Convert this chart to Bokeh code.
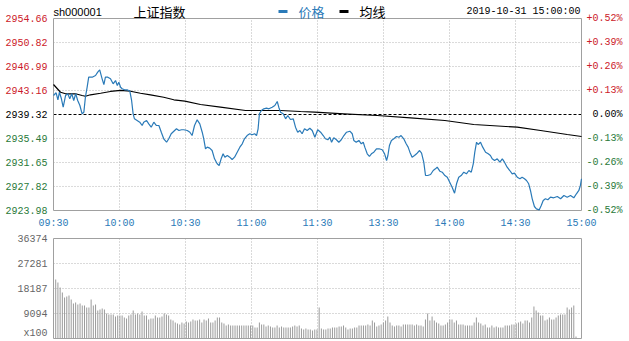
import numpy as np
from bokeh.plotting import figure
from bokeh.models import Range1d
from bokeh.layouts import column
from bokeh.core.properties import value
from bokeh.embed import file_html
from bokeh.resources import INLINE

# ---------------- data ----------------
tick_pos = [0, 30, 60, 90, 120, 150, 180, 210, 240]
tick_labels = ["09:30", "10:00", "10:30", "11:00", "11:30", "13:30", "14:00", "14:30", "15:00"]

price_levels = [2954.66, 2950.82, 2946.99, 2943.16, 2939.32, 2935.49, 2931.65, 2927.82, 2923.98]
pct_labels = ["+0.52%", "+0.39%", "+0.26%", "+0.13%", "0.00%", "-0.13%", "-0.26%", "-0.39%", "-0.52%"]
prev_close = 2939.32

price_t = [0, 1.2, 2.0, 2.7, 3.6, 4.4, 5.5, 6.5, 7.4, 8.3, 9.2, 10.1, 11.0, 12.0, 13.0, 13.8, 14.5, 15.3, 16.0,
           17.6, 19.1, 20.1, 21.0, 22.1, 22.9, 23.6, 24.7, 25.9, 27.1, 28.2, 29.0, 29.7, 30.5, 31.2, 32.3, 33.5,
           34.7, 35.5, 36.2, 36.8, 38.0, 39.2, 40.3, 41.0, 42.3, 43.3, 44.4, 45.6, 46.8, 47.9, 49.0, 50.1, 51.4,
           52.4, 53.5, 54.7, 55.9, 57.0, 58.2, 59.2, 60.8, 62.0, 63.0, 64.1, 65.3, 66.5, 67.6, 68.3, 69.1, 69.9,
           71.0, 72.1, 73.2, 74.4, 75.3, 76.2, 77.1, 77.9, 79.0, 80.1, 81.2, 82.3, 83.5, 84.7, 85.8, 86.8, 88.0,
           89.2, 90.3, 91.4, 92.3, 93.0, 93.6, 94.5, 95.6, 96.8, 97.9, 99.4, 100.6, 101.7, 102.4, 103.2, 104.4,
           105.5, 106.5, 107.7, 109.0, 110.0, 111.0, 112.0, 113.0, 114.1, 115.3, 116.5, 117.6, 118.8, 120.1,
           121.4, 122.6, 123.6, 124.7, 125.6, 126.4, 127.4, 128.6, 129.7, 130.8, 132.0, 133.2, 134.7, 135.8,
           136.5, 137.6, 138.8, 139.9, 140.8, 141.5, 142.6, 143.6, 144.5, 145.6, 146.8, 148.0, 149.4, 150.5,
           151.4, 152.0, 152.7, 153.6, 154.7, 155.9, 157.0, 158.0, 159.2, 160.3, 161.2, 162.0, 163.0, 164.1,
           165.3, 166.4, 167.3, 168.3, 169.1, 170.1, 171.4, 172.6, 173.6, 174.4, 175.6, 176.7, 177.9, 179.0,
           180.1, 181.2, 182.3, 183.2, 184.2, 185.3, 186.5, 187.7, 188.8, 189.9, 190.8, 191.5, 192.3, 193.0,
           194.1, 195.1, 196.4, 197.6, 198.6, 199.4, 200.5, 201.7, 202.9, 204.0, 205.0, 206.2, 207.4, 208.5,
           209.5, 210.8, 212.0, 213.0, 214.1, 215.0, 216.0, 216.8, 217.6, 218.6, 219.5, 220.8, 221.7, 222.6,
           223.6, 224.7, 225.9, 227.4, 229.0, 230.5, 232.0, 233.5, 235.0, 236.5, 237.7, 238.8, 239.5, 240.0]
price_v = [2942.36, 2942.79, 2941.67, 2942.88, 2941.83, 2940.49, 2942.36, 2942.63, 2941.83, 2942.63, 2941.56,
           2942.63, 2941.56, 2940.76, 2939.43, 2939.69, 2942.08, 2943.68, 2945.28, 2945.28, 2945.55, 2946.08,
           2946.46, 2945.02, 2944.11, 2945.28, 2945.28, 2945.02, 2944.23, 2944.75, 2943.95, 2944.48, 2943.68,
           2943.43, 2943.27, 2943.27, 2943.04, 2941.56, 2939.43, 2938.63, 2938.36, 2938.09, 2937.56, 2938.09,
           2938.36, 2937.83, 2937.29, 2938.09, 2937.56, 2937.56, 2936.49, 2935.44, 2934.89, 2935.44, 2936.24,
           2936.65, 2937.04, 2936.76, 2936.88, 2936.88, 2936.76, 2936.49, 2935.96, 2937.56, 2938.47, 2937.83,
           2936.49, 2935.44, 2933.84, 2934.10, 2933.94, 2933.57, 2932.24, 2931.44, 2931.17, 2932.24, 2933.04,
           2932.50, 2932.77, 2932.50, 2932.13, 2932.50, 2933.30, 2934.10, 2934.64, 2935.44, 2935.96, 2936.24,
           2936.08, 2936.24, 2935.96, 2937.04, 2939.43, 2939.96, 2940.23, 2940.33, 2940.23, 2940.49, 2940.76,
           2941.40, 2940.49, 2939.69, 2939.43, 2938.63, 2939.16, 2938.52, 2938.63, 2937.29, 2936.49, 2936.76,
           2936.24, 2937.04, 2936.76, 2937.13, 2936.76, 2935.69, 2936.88, 2936.49, 2935.96, 2935.44, 2935.28,
           2935.69, 2934.89, 2935.60, 2935.28, 2934.89, 2935.28, 2935.96, 2936.49, 2936.65, 2936.24, 2935.17,
           2934.89, 2935.17, 2934.64, 2934.89, 2934.10, 2933.04, 2932.61, 2933.04, 2933.30, 2933.84, 2933.84,
           2933.68, 2933.04, 2931.97, 2932.77, 2934.37, 2935.17, 2935.44, 2935.80, 2935.69, 2935.96, 2935.44,
           2934.64, 2934.10, 2933.30, 2932.50, 2932.77, 2933.14, 2933.57, 2933.14, 2931.70, 2929.57, 2929.57,
           2929.73, 2930.37, 2930.64, 2930.90, 2930.26, 2930.10, 2929.57, 2929.30, 2928.50, 2927.70, 2926.74,
           2928.25, 2929.30, 2929.57, 2930.10, 2929.84, 2930.37, 2930.10, 2931.44, 2933.30, 2934.89, 2934.53,
           2934.89, 2934.10, 2933.30, 2933.04, 2932.77, 2932.24, 2931.97, 2932.24, 2931.70, 2932.24, 2931.70,
           2930.90, 2930.37, 2929.84, 2929.94, 2929.30, 2929.05, 2929.30, 2929.05, 2928.77, 2928.25, 2927.18,
           2925.85, 2924.62, 2924.25, 2924.09, 2924.78, 2925.58, 2925.85, 2925.69, 2926.11, 2926.01, 2926.22,
           2925.85, 2926.38, 2926.11, 2926.38, 2926.01, 2926.65, 2927.18, 2927.98, 2929.05]

avg_t = [0, 3.2, 5.5, 10, 13, 14.5, 16.8, 21.4, 25.9, 30.5, 35, 39.5, 44.1, 50.1, 54.7, 59.7, 66.8, 75.9, 87.3,
         97.1, 103.2, 112.3, 118.8, 132, 147.1, 162.3, 177.9, 191, 210.8, 221.4, 233.5, 240]
avg_v = [2944.11, 2942.88, 2942.63, 2942.63, 2942.36, 2942.24, 2942.47, 2942.72, 2943.00, 2943.16, 2943.04,
         2942.72, 2942.47, 2942.08, 2941.67, 2941.45, 2940.92, 2940.49, 2939.96, 2939.96, 2939.96, 2939.80,
         2939.69, 2939.43, 2939.16, 2938.79, 2938.36, 2937.72, 2937.29, 2936.76, 2936.12, 2935.80]

vol_levels = [0, 9094, 18187, 27281, 36374]
vol_labels = ["x100", "9094", "18187", "27281", "36374"]
volume = [21460, 20370, 18550, 16730, 14910, 15280, 15640, 14190, 12730, 13090,
          12370, 12730, 12000, 12000, 11280, 11280, 14190, 12000, 12370, 10190,
          10550, 10910, 10550, 9090, 8730, 8730, 8730, 8000, 8370, 8370,
          8370, 7640, 7270, 8370, 8730, 10190, 8730, 9090, 8730, 9820,
          8370, 8370, 6910, 7270, 7270, 8370, 7640, 7640, 8000, 9090,
          8730, 8370, 6910, 6550, 5820, 5460, 5090, 5820, 5460, 6180,
          5820, 6180, 6910, 6550, 6550, 6910,
          5820, 6910, 6550, 7270, 5820, 5820, 6550, 7640, 7640, 5820,
          5460, 4730, 5090, 4730, 4730, 4730, 4730, 4730, 4730, 4730,
          4730, 4730, 4730, 4730, 4000, 4000, 5820, 5090, 5090, 4360,
          4730, 4360, 4000, 4000, 4730, 4000, 4360, 4000, 4000, 4000,
          4000, 4360, 4730, 4360, 4730, 3640, 3270, 3640, 3270, 3270,
          2910, 3270, 3270, 11280, 3640, 3270, 3270, 3640, 3640, 4000,
          4000, 4000, 4360, 4360, 4730, 4000, 3270, 3640, 3640, 4000,
          4000, 4730, 4730, 4730, 4730, 5090, 4730, 6550, 5820, 4360,
          4730, 5090, 5820, 6550, 8000, 5820, 4730, 4360, 4730, 4730,
          4360, 5090, 5090, 5090, 5090, 5090, 4730, 5090, 4730, 4730,
          4360, 6910, 9090, 6550, 8000, 6550, 5820, 5460, 4730, 4730,
          5090, 5820, 6910, 6910, 5820, 6550, 5090, 5090, 5090, 4730,
          4730, 4730, 4730, 5820, 7640, 5820, 5460, 4730, 5090, 4000,
          4000, 4730, 4000, 4360, 4000, 4000, 4000, 4730, 4730, 4730,
          5090, 5090, 5460, 5820, 6180, 5460, 6550, 6550, 5820, 7640,
          11640, 10190, 9460, 8370, 8370, 6550, 6910, 7640, 6910, 6910,
          7640, 8370, 8730, 8730, 8730, 11280, 10550, 11280, 12000, 730]

RED = "#cc1a2a"
GREEN = "#2a7a3a"
BLUE = "#2a7ab8"
GRID = "#b4b4b4"
FRAME = "#a0a0a0"
MONO = "Liberation Mono"

# ---------------- layout (pixels) ----------------
W = 629
H1, H2 = 230, 111
L, R = 53, 48            # plot-area margins left / right
T1, B1 = 18, 20          # price chart margins top / bottom
T2, B2 = 8, 3            # volume chart margins top / bottom

X0, X1 = tick_pos[0], tick_pos[-1]
MPX = (X1 - X0) / (W - L - R)                 # minutes per pixel
HI, LO = price_levels[0], price_levels[-1]
PPX = (HI - LO) / (H1 - T1 - B1)              # price per pixel
VHI = vol_levels[-1]
VPX = VHI / (H2 - T2 - B2)                    # volume per pixel

def xpx(px):
    return X0 + (px - L) * MPX

# ---------------- price chart ----------------
p = figure(width=W, height=H1,
           x_range=Range1d(X0 - L * MPX, X1 + R * MPX),
           y_range=Range1d(LO - B1 * PPX, HI + T1 * PPX),
           output_backend="svg", toolbar_location=None,
           min_border_left=0, min_border_right=0, min_border_top=0, min_border_bottom=0)
p.axis.visible = False
p.grid.visible = False
p.outline_line_color = None
p.background_fill_color = "white"
p.border_fill_color = "white"

inner_t = tick_pos[1:-1]
p.segment(x0=inner_t, x1=inner_t, y0=[LO] * len(inner_t), y1=[HI] * len(inner_t),
          line_color=GRID, line_dash="1 2", line_width=1)
inner_p = [v for v in price_levels[1:-1] if v != prev_close]
p.segment(x0=[X0] * len(inner_p), x1=[X1] * len(inner_p), y0=inner_p, y1=inner_p,
          line_color=GRID, line_dash="1 2", line_width=1)
p.segment(x0=[X0], x1=[X1], y0=[prev_close], y1=[prev_close], line_color="black", line_dash="3 2", line_width=1)
p.quad(left=[X0], right=[X1], bottom=[LO], top=[HI], fill_color=None, line_color=FRAME, line_width=1)

p.line(avg_t, avg_v, line_color="black", line_width=1.2)
p.line(price_t, price_v, line_color=BLUE, line_width=1.2)

cols = [RED if lv > prev_close else ("black" if lv == prev_close else GREEN) for lv in price_levels]
p.text(x=[X0] * 9, y=price_levels, text=[f"{lv:.2f}" for lv in price_levels], x_offset=-6,
       text_align="right", text_baseline="middle", text_font=value(MONO), text_font_size="10px", text_color=cols)
p.text(x=[X1] * 9, y=price_levels, text=pct_labels, x_offset=41,
       text_align="right", text_baseline="middle", text_font=value(MONO), text_font_size="10px", text_color=cols)

p.text(x=tick_pos, y=[LO - 13 * PPX] * len(tick_pos), text=tick_labels, text_align="center",
       text_baseline="middle", text_font=value(MONO), text_font_size="10px", text_color=BLUE)

yh = HI + 7 * PPX
p.text(x=[X0], y=[yh], text=["sh000001"], text_align="left", text_baseline="middle",
       text_font=value("Liberation Sans"), text_font_size="11px", text_color="black")
p.text(x=[xpx(133)], y=[yh], text=["上证指数"], text_align="left", text_baseline="middle",
       text_font=value("Noto Sans CJK SC"), text_font_size="13px", text_color="black")
p.segment(x0=[xpx(278)], x1=[xpx(287)], y0=[yh], y1=[yh], line_color=BLUE, line_width=3)
p.text(x=[xpx(298)], y=[yh], text=["价格"], text_align="left", text_baseline="middle",
       text_font=value("Noto Sans CJK SC"), text_font_size="13px", text_color=BLUE)
p.segment(x0=[xpx(339)], x1=[xpx(348)], y0=[yh], y1=[yh], line_color="black", line_width=3)
p.text(x=[xpx(359)], y=[yh], text=["均线"], text_align="left", text_baseline="middle",
       text_font=value("Noto Sans CJK SC"), text_font_size="13px", text_color="black")
p.text(x=[X1], y=[yh], text=["2019-10-31 15:00:00"], x_offset=-1, text_align="right", text_baseline="middle",
       text_font=value(MONO), text_font_size="10px", text_color="black")

# ---------------- volume chart ----------------
v = figure(width=W, height=H2,
           x_range=Range1d(X0 - L * MPX, X1 + R * MPX),
           y_range=Range1d(-B2 * VPX, VHI + T2 * VPX),
           output_backend="svg", toolbar_location=None,
           min_border_left=0, min_border_right=0, min_border_top=0, min_border_bottom=0)
v.axis.visible = False
v.grid.visible = False
v.outline_line_color = None
v.background_fill_color = "white"
v.border_fill_color = "white"

v.segment(x0=inner_t, x1=inner_t, y0=[0] * len(inner_t), y1=[VHI] * len(inner_t),
          line_color=GRID, line_dash="1 2", line_width=1)
inner_v = vol_levels[1:-1]
v.segment(x0=[X0] * len(inner_v), x1=[X1] * len(inner_v), y0=inner_v, y1=inner_v,
          line_color=GRID, line_dash="1 2", line_width=1)

bar_x = np.linspace(1, 237.5, len(volume))
v.vbar(x=bar_x, top=volume, bottom=0, width=0.45, fill_color="#9a9a9a", line_color=None)
v.quad(left=[X0], right=[X1], bottom=[0], top=[VHI], fill_color=None, line_color=FRAME, line_width=1)

v.text(x=[X0] * 4, y=vol_levels[1:], text=vol_labels[1:], x_offset=-6, text_align="right",
       text_baseline="middle", text_font=value(MONO), text_font_size="10px", text_color="#666666")
# bottom label sits on the baseline, kept fully inside the canvas
v.text(x=[X0], y=[vol_levels[0]], text=vol_labels[:1], x_offset=-6, text_align="right",
       text_baseline="bottom", text_font=value(MONO), text_font_size="10px", text_color="#666666")

layout = column(p, v, spacing=0)
open("out.html", "w").write(file_html(layout, INLINE))
